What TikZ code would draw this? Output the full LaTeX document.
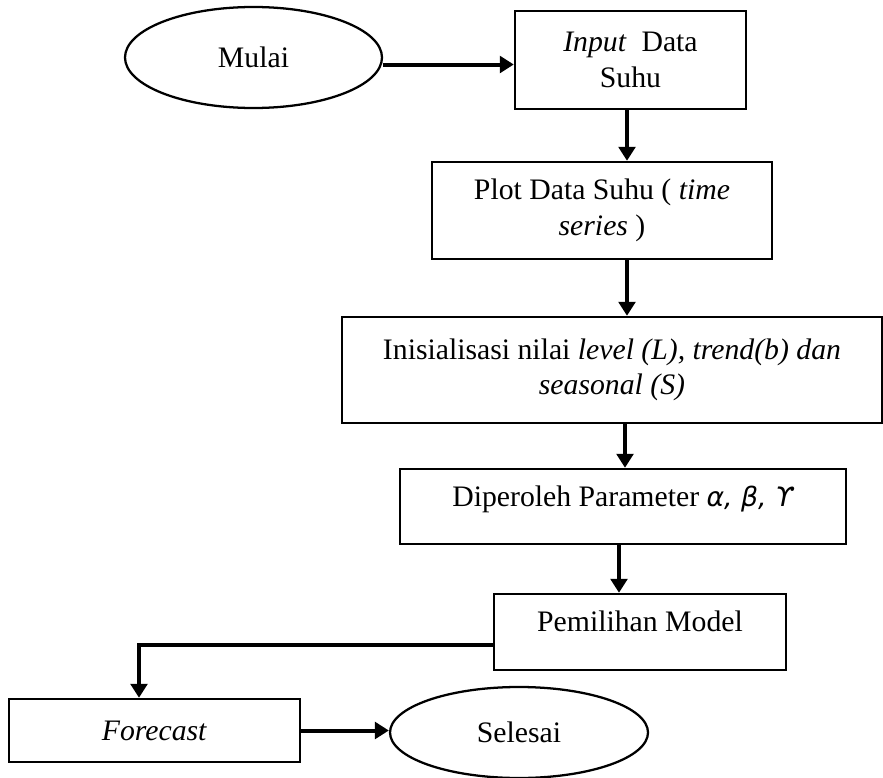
\documentclass[tikz,border=0pt]{standalone}
\usepackage{fontspec}
\setmainfont{Liberation Serif}
\newfontfamily\greekfont{DejaVu Sans}
\usetikzlibrary{arrows.meta,shapes.geometric}
\begin{document}
\begin{tikzpicture}[x=0.75pt,y=-0.75pt,
  every node/.style={font=\fontsize{22.3}{26.5}\selectfont, inner sep=0pt, align=center},
  box/.style={draw, line width=1.8pt, rectangle},
  oval/.style={draw, line width=1.7pt, ellipse},
  arr/.style={line width=3pt, -{Triangle[length=10.5pt,width=12.5pt]}}]
\useasboundingbox (0,0) rectangle (883,778);
\node[oval, minimum width=192.75pt, minimum height=75.75pt] (mulai) at (253.5,57.5) {Mulai};
\node[box, minimum width=173.25pt, minimum height=73.5pt] (input) at (630.5,60) {\textit{Input}\ \ Data\\Suhu};
\node[box, minimum width=255pt, minimum height=72.75pt] (plot) at (602,210.5) {Plot Data Suhu ( \textit{time}\\\textit{series} )};
\node[box, minimum width=405pt, minimum height=79.5pt] (init) at (612,370) {Inisialisasi nilai \textit{level (L), trend(b) dan}\\\textit{seasonal (S)}};
\node[box, minimum width=334.5pt, minimum height=56.25pt, text depth=16pt] (param) at (623,506.5) {Diperoleh Parameter {\greekfont\itshape\fontsize{20}{22}\selectfont α, β, ϒ}};
\node[box, minimum width=219pt, minimum height=57pt, text depth=16pt] (model) at (640,632) {Pemilihan Model};
\node[box, minimum width=218.25pt, minimum height=47.25pt] (fc) at (154.5,730.5) {\textit{Forecast}};
\node[oval, minimum width=193.5pt, minimum height=68.25pt] (selesai) at (519,732.5) {Selesai};
\coordinate (a0) at (0,64.5);
\coordinate (a1) at (627,0);
\coordinate (a3) at (625,0);
\coordinate (a4) at (619,0);
\coordinate (c5) at (139,645);
\draw[arr] (mulai.east |- a0) -- (input.west |- a0);
\draw[arr] (input.south -| a1) -- (plot.north -| a1);
\draw[arr] (plot.south -| a1) -- (init.north -| a1);
\draw[arr] (init.south -| a3) -- (param.north -| a3);
\draw[arr] (param.south -| a4) -- (model.north -| a4);
\draw[arr] (model.west |- c5) -- (c5) -- (c5 |- fc.north);
\draw[arr] (fc.east) -- (fc.east -| selesai.west);
\end{tikzpicture}
\end{document}
